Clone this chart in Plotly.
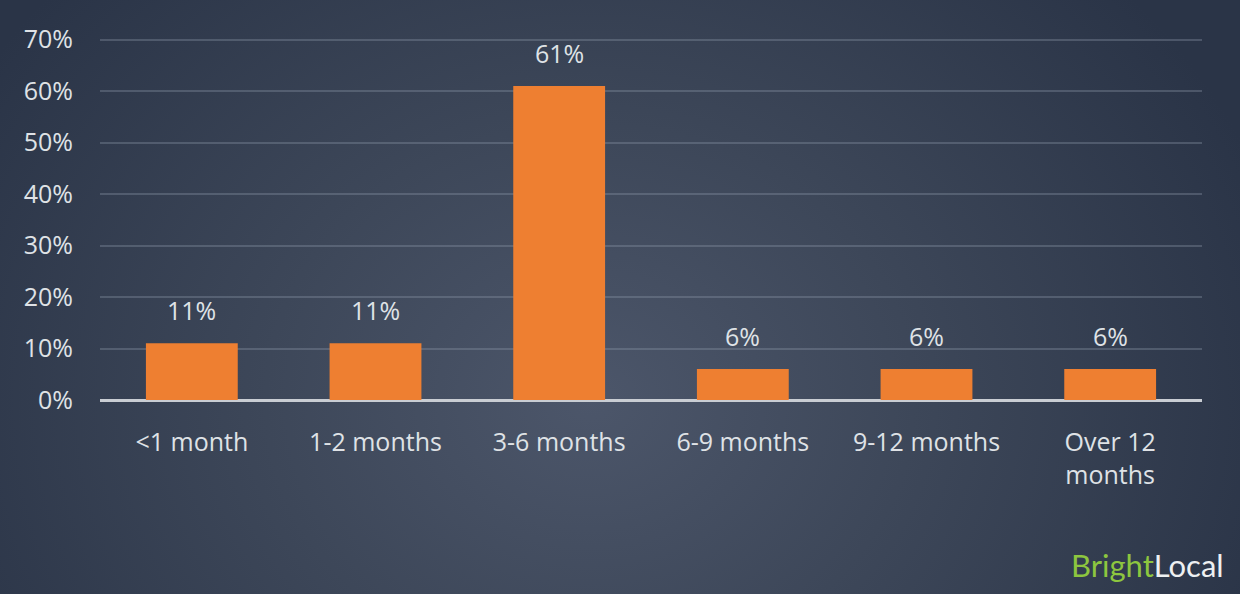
import base64
import plotly.graph_objects as go

categories = ["<1 month", "1-2 months", "3-6 months", "6-9 months", "9-12 months", "Over 12<br>months"]
values = [11, 11, 61, 6, 6, 6]
value_labels = ["11%", "11%", "61%", "6%", "6%", "6%"]
ytick_vals = [0, 10, 20, 30, 40, 50, 60, 70]
ytick_text = ["0%", "10%", "20%", "30%", "40%", "50%", "60%", "70%"]

W, H = 1240, 594
ML, MR, MT, MB = 100, 38, 38, 194
PW, PH = W - ML - MR, H - MT - MB

svg = f'''<svg xmlns="http://www.w3.org/2000/svg" width="{W}" height="{H}" viewBox="0 0 {W} {H}">
<defs><radialGradient id="g" gradientUnits="userSpaceOnUse" cx="590" cy="400" r="720"
 gradientTransform="translate(590 400) scale(1 0.85) translate(-590 -400)">
<stop offset="0" stop-color="#4c566a"/><stop offset="0.45" stop-color="#3d4759"/>
<stop offset="1" stop-color="#2a3447"/></radialGradient></defs>
<rect width="{W}" height="{H}" fill="url(#g)"/></svg>'''
bg_uri = "data:image/svg+xml;base64," + base64.b64encode(svg.encode()).decode()

FONT = "Open Sans, Lato, sans-serif"
TXT = "#dfe2e6"
FS = 25

fig = go.Figure()
fig.add_trace(go.Bar(
    x=categories, y=values, marker=dict(color="#ee7f31", line=dict(width=0)),
    width=0.5, hoverinfo="skip",
))

for c, v, t in zip(categories, values, value_labels):
    fig.add_annotation(x=c, y=v, text=t, showarrow=False, yanchor="bottom",
                       yshift=14, font=dict(family=FONT, size=FS, color=TXT))

fig.add_annotation(xref="paper", yref="paper", x=(W - 14 - ML) / PW, y=-(565 - MT - PH) / PH,
                   xanchor="right", yanchor="middle", showarrow=False,
                   text="<span style='color:#8dc63f'>Bright</span><span style='color:#eef0f2'>Local</span>",
                   font=dict(family="Lato, sans-serif", size=31))

fig.add_layout_image(dict(source=bg_uri, xref="paper", yref="paper",
                          x=-ML / PW, y=1 + MT / PH, sizex=W / PW, sizey=H / PH,
                          xanchor="left", yanchor="top", sizing="stretch", layer="below"))

fig.update_layout(
    width=W, height=H, margin=dict(l=ML, r=MR, t=MT, b=MB),
    paper_bgcolor="#2c3649", plot_bgcolor="rgba(0,0,0,0)",
    showlegend=False, bargap=0.5,
    font=dict(family=FONT, size=FS, color=TXT),
    xaxis=dict(showgrid=False, showline=False, zeroline=False,
               ticks="outside", ticklen=20, tickcolor="rgba(0,0,0,0)",
               tickfont=dict(family=FONT, size=FS, color=TXT)),
    yaxis=dict(range=[0, 70.3], tickvals=ytick_vals, ticktext=ytick_text,
               showgrid=True, gridcolor="rgba(140,152,170,0.35)", gridwidth=1.5,
               zeroline=True, zerolinecolor="#c9cdd3", zerolinewidth=2.5,
               showline=False, ticks="", ticklabelstandoff=26,
               tickfont=dict(family=FONT, size=FS, color=TXT)),
)

fig.write_html("out.html", config={"displayModeBar": False},
               post_script="document.body.style.margin='0';document.body.style.background='#2c3649';")
